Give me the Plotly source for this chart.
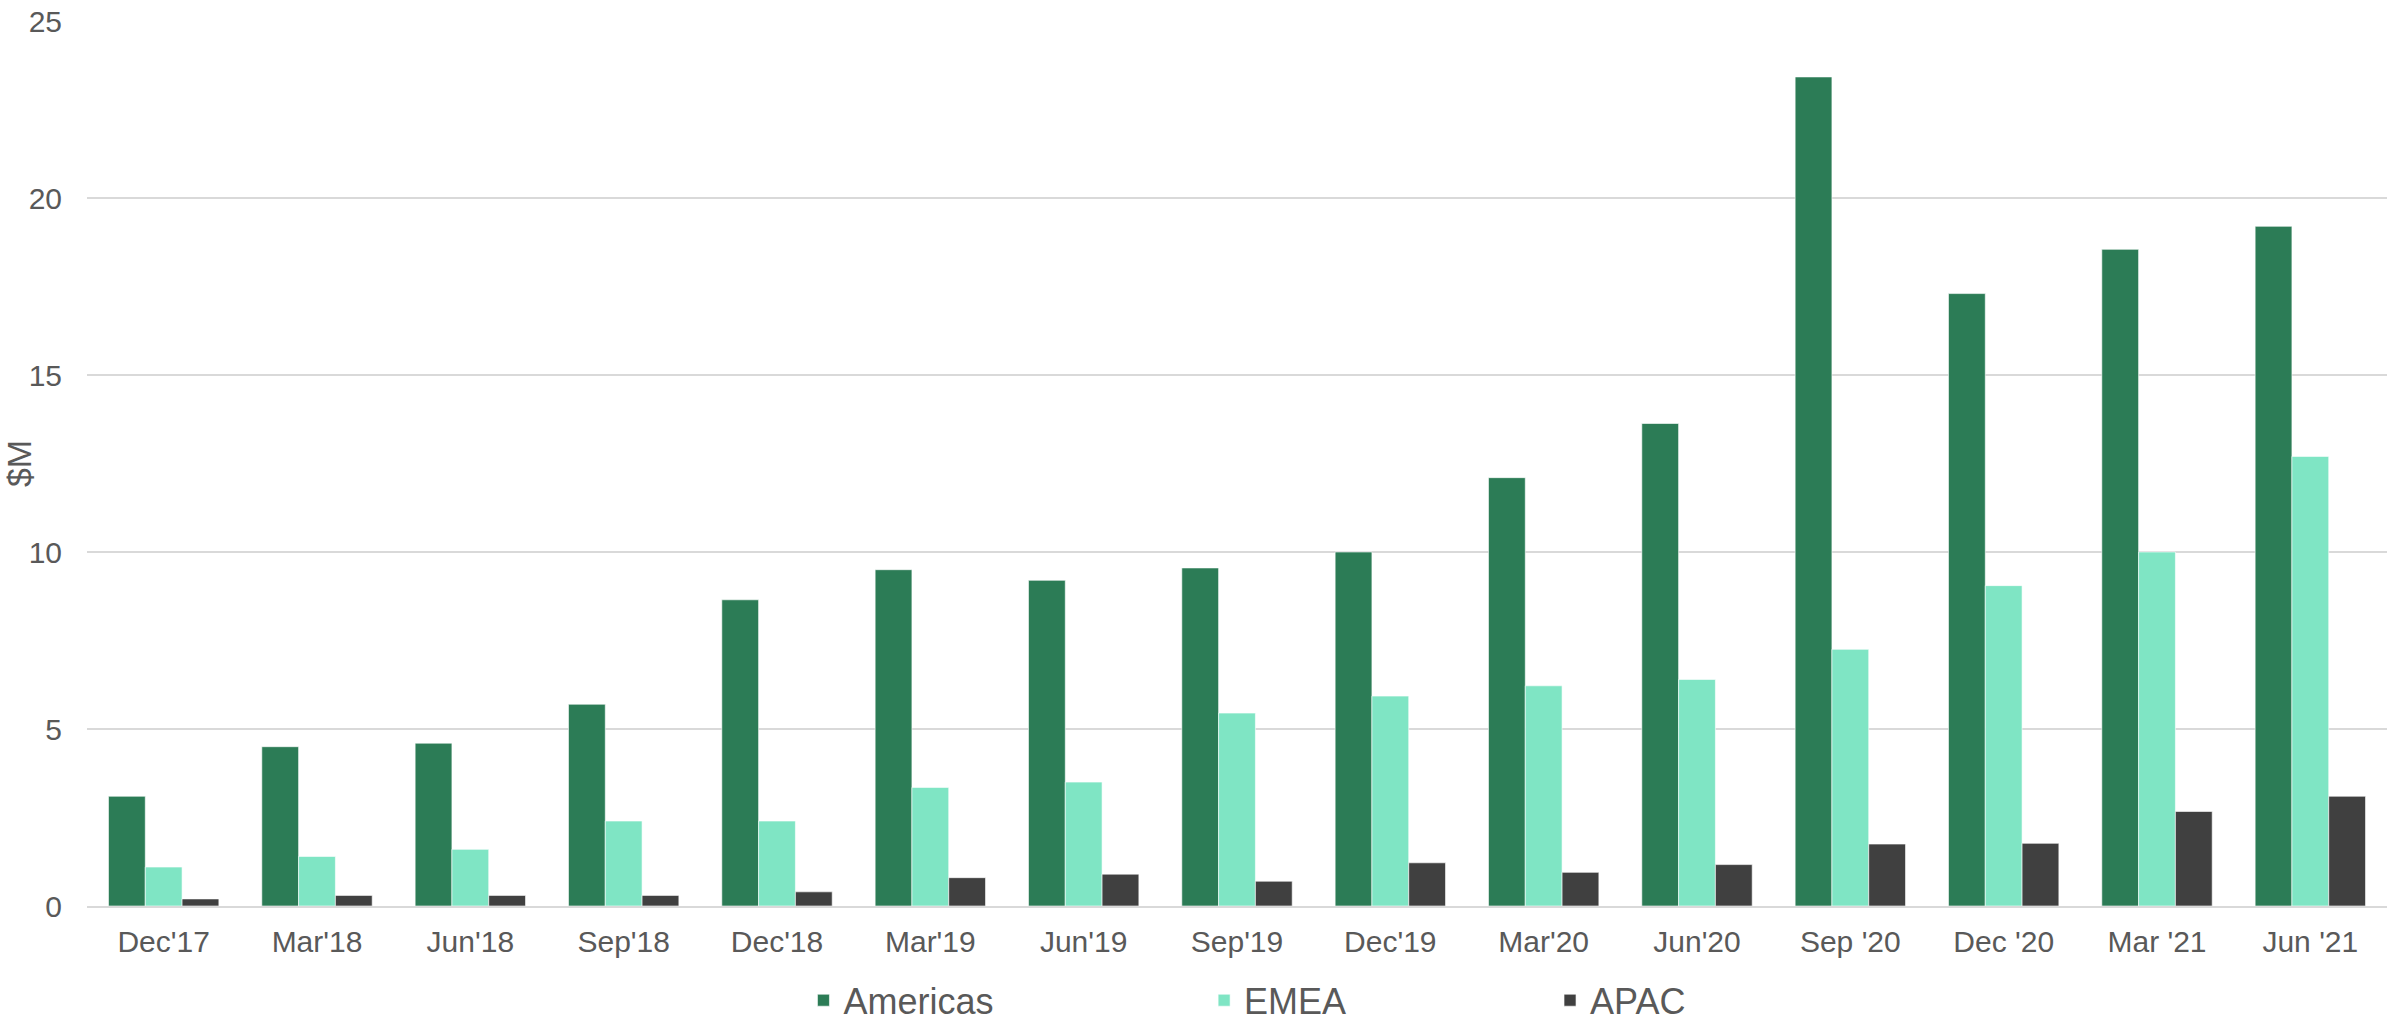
import plotly.graph_objects as go

categories = ["Dec'17", "Mar'18", "Jun'18", "Sep'18", "Dec'18", "Mar'19", "Jun'19",
              "Sep'19", "Dec'19", "Mar'20", "Jun'20", "Sep '20", "Dec '20", "Mar '21", "Jun '21"]
americas = [3.1, 4.5, 4.6, 5.7, 8.65, 9.5, 9.2, 9.55, 10.0, 12.1, 13.63, 23.42, 17.3, 18.55, 19.2]
emea = [1.1, 1.4, 1.6, 2.4, 2.4, 3.35, 3.5, 5.45, 5.93, 6.22, 6.4, 7.25, 9.05, 10.0, 12.7]
apac = [0.2, 0.3, 0.3, 0.3, 0.4, 0.8, 0.9, 0.7, 1.22, 0.95, 1.17, 1.75, 1.77, 2.67, 3.1]

FONT = "Liberation Sans, Arial, sans-serif"
TXT = "#595959"

fig = go.Figure()
fig.add_trace(go.Bar(name="Americas", x=categories, y=americas, marker_color="#2C7C56",
                     marker_line=dict(color="rgba(255,255,255,0.6)", width=1),
                     legend="legend", showlegend=True))
fig.add_trace(go.Bar(name="EMEA", x=categories, y=emea, marker_color="#7FE5C4",
                     marker_line=dict(color="rgba(255,255,255,0.6)", width=1),
                     legend="legend2", showlegend=True))
fig.add_trace(go.Bar(name="APAC", x=categories, y=apac, marker_color="#404040",
                     marker_line=dict(color="rgba(255,255,255,0.6)", width=1),
                     legend="legend3", showlegend=True))

leg_common = dict(orientation="h", yref="container", yanchor="middle", y=0.026,
                  xanchor="left",
                  font=dict(family=FONT, size=36, color=TXT), bgcolor="rgba(0,0,0,0)")

fig.update_layout(
    width=2399, height=1027,
    margin=dict(l=87, r=12, t=21, b=121, autoexpand=False),
    paper_bgcolor="white", plot_bgcolor="white",
    showlegend=True,
    barmode="group", bargap=0.28, bargroupgap=0,
    font=dict(family=FONT, color=TXT),
    legend=dict(x=0.3115, **leg_common),
    legend2=dict(x=0.4857, **leg_common),
    legend3=dict(x=0.6361, **leg_common),
    xaxis=dict(showgrid=False, ticks="outside", ticklen=8, tickcolor="rgba(0,0,0,0)",
               tickfont=dict(family=FONT, size=30, color=TXT), showline=True,
               linecolor="#D9D9D9", linewidth=2),
    yaxis=dict(range=[0, 25], dtick=5, showgrid=True, gridcolor="#D9D9D9", gridwidth=1.5,
               zeroline=False, ticks="outside", ticklen=18, tickcolor="rgba(0,0,0,0)",
               tickfont=dict(family=FONT, size=30, color=TXT),
               title=dict(text="$M", font=dict(family=FONT, size=34, color=TXT), standoff=6)),
)

fig.write_html("out.html")
